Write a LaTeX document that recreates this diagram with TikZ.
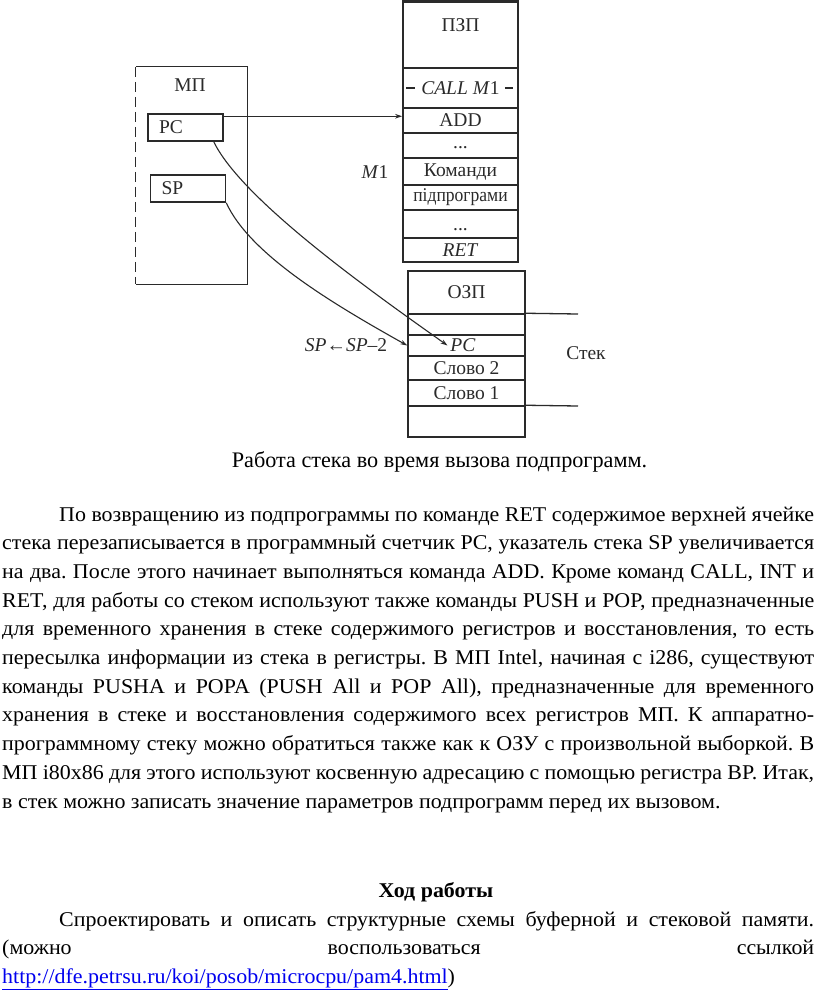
\documentclass[tikz,border=0pt]{standalone}
\usepackage{fontspec}
\setmainfont{Liberation Serif}
\newfontfamily\bodyface[FakeStretch=1.045]{Liberation Serif}
\usetikzlibrary{arrows.meta}
\definecolor{ink}{HTML}{2A2A2A}
\definecolor{link}{HTML}{0000EE}
\frenchspacing
\newcommand{\diagfont}{\fontsize{19.5}{22}\selectfont}
\newcommand{\bodyfont}{\bodyface\fontsize{21}{28.7}\selectfont\frenchspacing}
\begin{document}
\begin{tikzpicture}[x=1pt,y=-1pt,
  cell/.style={draw=ink, line width=1.5pt, minimum width=115pt, inner sep=0pt, font=\diagfont, text=ink},
  ocell/.style={cell, minimum width=117pt},
  reg/.style={draw=ink, line width=1.5pt, minimum width=75pt, minimum height=27pt, inner xsep=11pt, inner ysep=0pt, text width=53pt, align=left, font=\diagfont, text=ink},
  lbl/.style={inner sep=0pt, font=\diagfont, text=ink},
  wire/.style={draw=ink, line width=1.1pt},
  arr/.style={wire, -{Stealth[length=7pt,width=4.5pt]}},
  body/.style={inner sep=0pt, anchor=base west, font=\bodyfont, text=black}]
\useasboundingbox (0,0) rectangle (816,994);
% ROM column
\node[cell, minimum height=66pt] (p0) at (460.5,35) {};
\node[lbl] (p0t) at (460.5,25) {ПЗП};
\node[cell, minimum height=40pt] (p1) at (460.5,88) {\textit{CALL M}1};
\node[cell, minimum height=25pt] (p2) at (460.5,120.5) {ADD};
\node[cell, minimum height=25pt] (p3) at (460.5,145.5) {};
\node[lbl, anchor=base] (p3t) at (460.5,148) {...};
\node[cell, minimum height=27pt] (p4) at (460.5,171.5) {Команди};
\node[cell, minimum height=25pt] (p5) at (460.5,197.5) {\scalebox{0.9}[1]{підпрограми}};
\node[cell, minimum height=28pt] (p6) at (460.5,224) {};
\node[lbl, anchor=base] (p6t) at (460.5,230) {...};
\node[cell, minimum height=24pt] (p7) at (460.5,250) {\textit{RET}};
\draw[ink, line width=2.8pt] (p0.north west) -- (p0.north east);
\draw[wire] ([xshift=4pt]p1.west) -- ([xshift=13pt]p1.west);
\draw[wire] ([xshift=-14pt]p1.east) -- ([xshift=-6pt]p1.east);
\node[lbl] (m1) at (375,172) {\textit{M}1};
% RAM column
\node[ocell, minimum height=43pt] (o0) at (466.5,292.5) {ОЗП};
\node[ocell, minimum height=21pt] (o1) at (466.5,324.5) {};
\node[ocell, minimum height=21pt] (o2) at (466.5,345.5) {};
\node[lbl] (o2t) at (463,345.5) {\textit{PC}};
\node[ocell, minimum height=24pt] (o3) at (466.5,368) {Слово 2};
\node[ocell, minimum height=26pt] (o4) at (466.5,393) {Слово 1};
\node[ocell, minimum height=31pt] (o5) at (466.5,421.5) {};
\coordinate (s1) at (578,314);
\coordinate (s2) at (578,406);
\draw[wire, line width=1.3pt] (o1.north east) -- (s1);
\draw[wire, line width=1.3pt] (o5.north east) -- (s2);
\node[lbl] (stek) at (586,353) {Стек};
\node[lbl] (spm) at (346,345) {\textit{SP}←\textit{SP}–2};
% MP block
\node[minimum width=111pt, minimum height=217pt, inner sep=0pt] (mp) at (191.5,175.5) {};
\draw[wire, line width=1.3pt] (mp.south west) -- (mp.south east) -- (mp.north east) -- (mp.north west);
\draw[wire, line width=1.3pt, dash pattern=on 10pt off 5pt] (mp.north west) -- (mp.south west);
\node[lbl] (mpt) at (190,85) {МП};
\node[reg] (pc) at (185.5,127.5) {PC};
\node[reg, minimum width=74pt] (sp) at (188,188.5) {SP};
% connectors
\draw[arr] ([yshift=-3pt]pc.north east) -- ([yshift=-3pt]pc.north east -| p2.west);
\draw[arr] ([xshift=-10pt]pc.south east) .. controls (242,200) and (372,292) .. ([xshift=-19pt]o2.center);
\draw[arr] (sp.south east) .. controls (250,255) and (335,305) .. (o2.west);
% caption
\node[inner sep=0pt, anchor=base, font=\fontsize{22.2}{26}\selectfont] (cap) at (439.5,467) {Работа стека во время вызова подпрограмм.};
% body text
\node[body] (l1) at (59,521) {\makebox[755pt][s]{По возвращению из подпрограммы по команде RET содержимое верхней ячейке}};
\node[body] (l2) at (2,549.7) {\makebox[812pt][s]{стека перезаписывается в программный счетчик PC, указатель стека SP увеличивается}};
\node[body] (l3) at (2,578.4) {\makebox[812pt][s]{на два. После этого начинает выполняться команда ADD. Кроме команд CALL, INT и}};
\node[body] (l4) at (2,607.1) {\makebox[812pt][s]{RET, для работы со стеком используют также команды PUSH и POP, предназначенные}};
\node[body] (l5) at (2,635.8) {\makebox[812pt][s]{для временного хранения в стеке содержимого регистров и восстановления, то есть}};
\node[body] (l6) at (2,664.5) {\makebox[812pt][s]{пересылка информации из стека в регистры. В МП Intel, начиная с i286, существуют}};
\node[body] (l7) at (2,693.2) {\makebox[812pt][s]{команды PUSHA и POPA (PUSH All и POP All), предназначенные для временного}};
\node[body] (l8) at (2,721.9) {\makebox[812pt][s]{хранения в стеке и восстановления содержимого всех регистров МП. К аппаратно-}};
\node[body] (l9) at (2,750.6) {\makebox[812pt][s]{программному стеку можно обратиться также как к ОЗУ с произвольной выборкой. В}};
\node[body] (l10) at (2,779.3) {\makebox[812pt][s]{МП i80x86 для этого используют косвенную адресацию с помощью регистра BP. Итак,}};
\node[body] (l11) at (2,808) {в стек можно записать значение параметров подпрограмм перед их вызовом.};
\node[body, anchor=base, font=\bodyfont\bfseries] (head) at (436,897) {Ход работы};
\node[body] (l12) at (59,926) {\makebox[755pt][s]{Спроектировать и описать структурные схемы буферной и стековой памяти.}};
\node[body] (l13) at (2,954.5) {\makebox[812pt][s]{(можно воспользоваться ссылкой}};
\node[body] (l14) at (2,983) {\textcolor{link}{\underline{http://dfe.petrsu.ru/koi/posob/microcpu/pam4.html}})};
\end{tikzpicture}
\end{document}
